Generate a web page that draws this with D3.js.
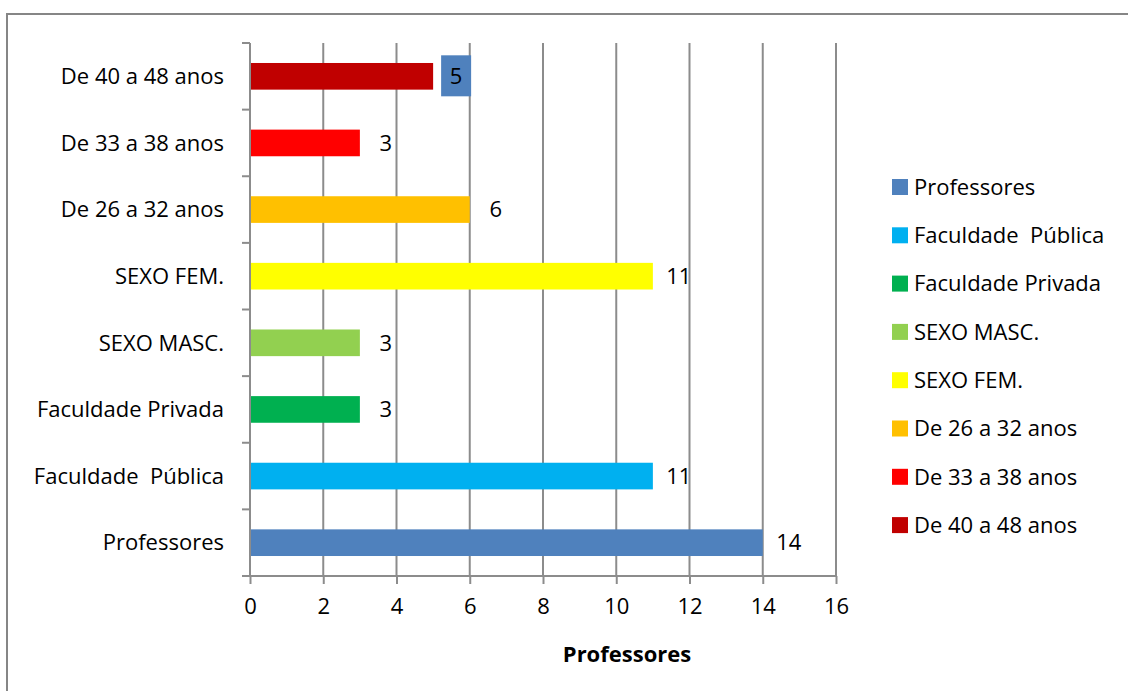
<!DOCTYPE html>
<html><head><meta charset="utf-8">
<script src="https://cdn.jsdelivr.net/npm/d3@7"></script>
<style>body{margin:0;background:#fff}svg{display:block}text{font-family:"Open Sans",Lato,sans-serif;fill:#000;white-space:pre}</style>
</head><body>
<svg id="c" width="1128" height="691"></svg>
<script>
const categories = ["Professores","Faculdade  Pública","Faculdade Privada","SEXO MASC.","SEXO FEM.","De 26 a 32 anos","De 33 a 38 anos","De 40 a 48 anos"];
const values = [14, 11, 3, 3, 11, 6, 3, 5];
const colors = ["#4f81bd","#00b0f0","#00b050","#92d050","#ffff00","#ffc000","#ff0000","#c00000"];
const xTicks = [0,2,4,6,8,10,12,14,16];
const axisTitle = "Professores";
const highlighted = ["De 40 a 48 anos"]; // label drawn with filled box

const FS = 22, FF = '"Open Sans",Lato,sans-serif';
const svg = d3.select("#c");
svg.append("rect").attr("x",7).attr("y",14).attr("width",1140).attr("height",700)
  .attr("fill","#fff").attr("stroke","#868686").attr("stroke-width",2);

const L=250, R=836, T=43, B=576;
const x = d3.scaleLinear().domain([0,16]).range([L,R]);
const y = d3.scaleBand().domain(categories.slice().reverse()).range([T,B]).paddingInner(0.6).paddingOuter(0.3);
const yb = d3.scaleBand().domain(categories.slice().reverse()).range([T,B]);
const grid = "#8c8c8c";

svg.append("g").selectAll("line").data(xTicks.slice(1)).join("line")
  .attr("x1",d=>x(d)).attr("x2",d=>x(d)).attr("y1",T).attr("y2",B)
  .attr("stroke",grid).attr("stroke-width",2);

svg.append("g").selectAll("rect").data(categories).join("rect")
  .attr("x",x(0)).attr("y",c=>y(c)).attr("height",y.bandwidth())
  .attr("width",(c,i)=>x(values[i])-x(0)).attr("fill",(c,i)=>colors[i]);

const xa = svg.append("g").attr("transform",`translate(0,${B})`)
  .call(d3.axisBottom(x).tickValues(xTicks).tickSize(8).tickPadding(14));
xa.select(".domain").attr("stroke",grid).attr("stroke-width",2).attr("d",`M${L-8},0H${R}`);
xa.selectAll(".tick line").attr("stroke",grid).attr("stroke-width",2);
xa.selectAll("text").attr("font-size",FS).attr("font-family",FF).attr("fill","#000");

const ya = svg.append("g").attr("transform",`translate(${L},0)`);
ya.append("line").attr("x1",0).attr("x2",0).attr("y1",T).attr("y2",B).attr("stroke",grid).attr("stroke-width",2);
ya.selectAll("line.t").data(categories).join("line").attr("class","t")
  .attr("x1",-8).attr("x2",0).attr("y1",c=>yb(c)).attr("y2",c=>yb(c))
  .attr("stroke",grid).attr("stroke-width",2);
ya.selectAll("text").data(categories).join("text")
  .attr("x",-26).attr("y",c=>yb(c)+yb.bandwidth()/2).attr("dy","0.35em")
  .attr("text-anchor","end").attr("font-size",FS).text(c=>c);

categories.forEach((c,i)=>{
  const cx = x(values[i]) + 22, cy = y(c)+y.bandwidth()/2;
  if (highlighted.includes(c)) {
    svg.append("rect").attr("x",cx-14).attr("y",cy-21).attr("width",30).attr("height",41).attr("fill","#4f81bd");
  }
  svg.append("text").attr("x",highlighted.includes(c)?cx+1:cx+4).attr("y",cy).attr("dy","0.35em")
    .attr("text-anchor","middle").attr("font-size",FS).text(values[i]);
});

svg.append("text").attr("x",(L+R)/2+84).attr("y",662).attr("text-anchor","middle")
  .attr("font-size",FS).attr("font-weight","bold").text(axisTitle);

const lg = svg.append("g");
categories.forEach((c,i)=>{
  const cy = 187 + i*48.3;
  lg.append("rect").attr("x",892).attr("y",cy-8).attr("width",16).attr("height",16).attr("fill",colors[i]);
  lg.append("text").attr("x",914).attr("y",cy).attr("dy","0.35em").attr("font-size",FS).text(c);
});
</script>
</body></html>
